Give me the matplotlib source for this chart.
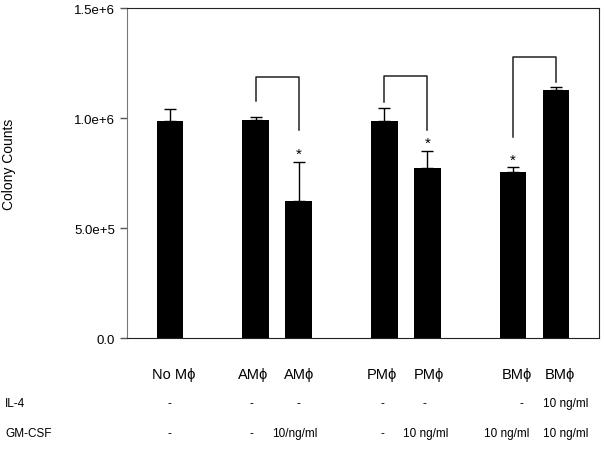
import matplotlib
matplotlib.use('Agg')
import matplotlib.pyplot as plt
import matplotlib.transforms as mtransforms

plt.rcParams['font.family'] = ['Liberation Sans', 'DejaVu Sans']

# bar data
groups = ['No M\u03d5', 'AM\u03d5', 'AM\u03d5', 'PM\u03d5', 'PM\u03d5', 'BM\u03d5', 'BM\u03d5']
positions = [0, 2, 3, 5, 6, 8, 9]
counts = [0.986e6, 0.991e6, 0.623e6, 0.986e6, 0.773e6, 0.755e6, 1.127e6]
errors = [0.056e6, 0.016e6, 0.178e6, 0.061e6, 0.077e6, 0.022e6, 0.013e6]
significant = [False, False, True, False, True, True, False]

# treatment table under the bars
il4 = ['-', '-', '-', '-', '-', '-', '10 ng/ml']
gmcsf = ['-', '-', '10/ng/ml', '-', '10 ng/ml', '10 ng/ml', '10 ng/ml']

# comparison brackets: (left bar, right bar, top, left leg end, right leg end)
brackets = [
    (2, 3, 1.187e6, 1.078e6, 0.946e6),
    (5, 6, 1.193e6, 1.075e6, 0.947e6),
    (8, 9, 1.277e6, 0.914e6, 1.164e6),
]

fig = plt.figure(figsize=(6.04, 4.52), dpi=100)
ax = fig.add_axes([127 / 604, 1 - 339.3 / 452, 472 / 604, 330.3 / 452])

ax.bar(positions, counts, width=0.62, color='black', zorder=2)
ax.errorbar(positions, counts, yerr=[[0] * len(errors), errors], fmt='none',
            ecolor='black', elinewidth=1, capsize=4.5, capthick=1, zorder=1)

for x, c, e, s in zip(positions, counts, errors, significant):
    if s:
        ax.text(x, c + e + 0.004e6, '*', ha='center', va='bottom', fontsize=11)

for x1, x2, top, y1, y2 in brackets:
    ax.plot([x1, x1, x2, x2], [y1, top, top, y2], color='#222222', lw=1.1)

ax.set_xlim(-1, 10)
ax.set_ylim(0, 1.5e6)
ax.set_yticks([0, 0.5e6, 1.0e6, 1.5e6])
ax.set_yticklabels(['0.0', '5.0e+5', '1.0e+6', '1.5e+6'], fontsize=9.5)
ax.set_xticks([])
ax.tick_params(axis='y', direction='out', length=5, width=1, color='#555555', pad=3.5)
ax.spines['left'].set_color('#777777')
for side in ['top', 'right', 'bottom']:
    ax.spines[side].set_color('#222222')

fig.text(9 / 604, 1 - 164 / 452, 'Colony Counts', rotation=90, ha='center',
         va='center', fontsize=10)

trans = mtransforms.blended_transform_factory(ax.transData, fig.transFigure)
label_x = [0.08, 1.94, 3.01, 4.93, 6.03, 8.09, 9.09]
il4_x = [0, 1.9, 3.0, 4.95, 5.93, 8.19, 9.23]
gm_x = [0, 1.9, 2.92, 4.95, 5.97, 7.84, 9.23]
for x, g in zip(label_x, groups):
    ax.text(x, 1 - 375 / 452, g, transform=trans, ha='center', va='center', fontsize=10.5)
for x, t in zip(il4_x, il4):
    ax.text(x, 1 - 404 / 452, t, transform=trans, ha='center', va='center', fontsize=8.5)
for x, t in zip(gm_x, gmcsf):
    ax.text(x, 1 - 434 / 452, t, transform=trans, ha='center', va='center', fontsize=8.5)
fig.text(5 / 604, 1 - 404 / 452, 'IL-4', ha='left', va='center', fontsize=8.5)
fig.text(5 / 604, 1 - 434 / 452, 'GM-CSF', ha='left', va='center', fontsize=8.5)

fig.savefig('out.png', dpi=100)
